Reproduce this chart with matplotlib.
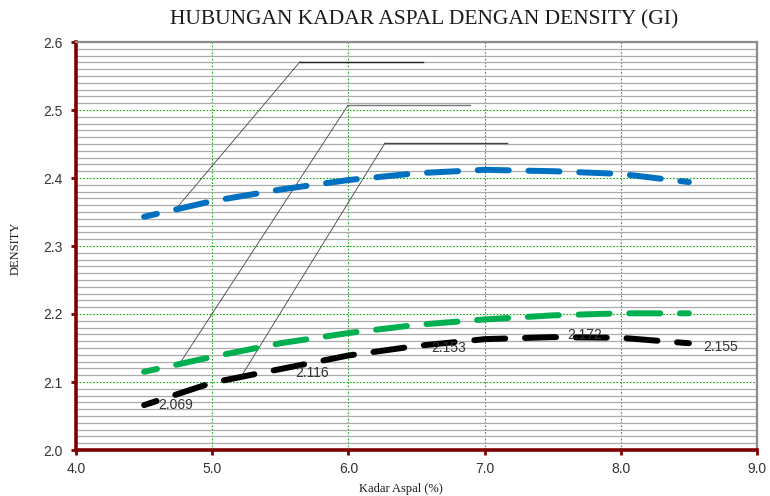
import matplotlib
matplotlib.use("Agg")
import matplotlib.pyplot as plt
import numpy as np
from matplotlib.ticker import MultipleLocator

kadar = [4.5, 5.0, 5.5, 6.0, 6.5, 7.0, 7.5, 8.0, 8.5]
density_blue = [2.343, 2.366, 2.383, 2.397, 2.407, 2.412, 2.410, 2.406, 2.394]
density_green = [2.115, 2.137, 2.157, 2.172, 2.184, 2.192, 2.198, 2.201, 2.201]
density_black = [2.066, 2.099, 2.119, 2.139, 2.153, 2.163, 2.166, 2.165, 2.157]

# Labelled data points (black series)
label_x = [4.5, 5.5, 6.5, 7.5, 8.5]
label_y = [2.069, 2.116, 2.153, 2.172, 2.155]
label_txt = ["2.069", "2.116", "2.153", "2.172", "2.155"]

# Leader lines (start on curve, elbow, end of horizontal)
leaders = [
    ([4.727, 5.645, 6.548], [2.353, 2.571, 2.571]),
    ([4.764, 5.997, 6.893], [2.128, 2.507, 2.507]),
    ([5.219, 6.269, 7.164], [2.110, 2.4515, 2.4515]),
]

fig = plt.figure(figsize=(7.70, 4.96), dpi=100)
ax = fig.add_axes([76 / 770, 1 - 450 / 496, (757 - 76) / 770, (450 - 42) / 496])

ax.set_xlim(4.0, 9.0)
ax.set_ylim(2.0, 2.6)

# grid
ax.yaxis.set_major_locator(MultipleLocator(0.1))
ax.yaxis.set_minor_locator(MultipleLocator(0.01))
ax.xaxis.set_major_locator(MultipleLocator(1.0))
ax.grid(which="minor", axis="y", color="#ababab", linewidth=0.9, linestyle="-")
ax.grid(which="major", axis="both", color="#19a819", linewidth=0.8, linestyle=(0, (1.5, 1.5)))
ax.set_axisbelow(True)

dash = (3.0, (5.2, 3.3))
for vals, col in [(density_blue, "#0070C0"), (density_green, "#00B050"), (density_black, "#000000")]:
    ax.plot(kadar, vals, color=col, linewidth=4.3, linestyle=dash,
            dash_capstyle="round", solid_capstyle="round", zorder=3)

leader_colors = ["#222222", "#777777", "#444444"]
for (lx, ly), c in zip(leaders, leader_colors):
    ax.plot(lx[:2], ly[:2], color="#444444", linewidth=0.6, zorder=2)
    ax.plot(lx[1:], ly[1:], color=c, linewidth=1.0, zorder=2)

for x, y, t in zip(label_x, label_y, label_txt):
    ax.annotate(t, xy=(x, y), xytext=(10.5, -1.5), textcoords="offset points",
                ha="left", va="center", fontsize=10, color="#333333",
                family="Liberation Sans", zorder=4)

# spines
for s in ["left", "bottom"]:
    ax.spines[s].set_color("#800000")
    ax.spines[s].set_linewidth(2.6)
for s in ["top", "right"]:
    ax.spines[s].set_color("#8c8c8c")
    ax.spines[s].set_linewidth(1.6)

ax.tick_params(axis="both", which="major", direction="out", length=3.5, width=2,
               color="#800000", labelsize=10, labelcolor="#333333")
ax.tick_params(axis="y", which="minor", length=0)
ax.tick_params(axis="y", pad=6)
ax.tick_params(axis="x", pad=5)
ax.set_xticks([4, 5, 6, 7, 8, 9])
ax.set_xticklabels(["4.0", "5.0", "6.0", "7.0", "8.0", "9.0"], family="Liberation Sans")
ax.set_yticks([2.0, 2.1, 2.2, 2.3, 2.4, 2.5, 2.6])
ax.set_yticklabels(["2.0", "2.1", "2.2", "2.3", "2.4", "2.5", "2.6"], family="Liberation Sans")

fig.text(424 / 770, 1 - 20 / 496, "HUBUNGAN KADAR ASPAL DENGAN DENSITY (GI)",
         ha="center", va="center", fontsize=15.5, family="Liberation Serif", color="#1a1a1a")
fig.text(401 / 770, 1 - 489 / 496, "Kadar Aspal (%)", ha="center", va="center",
         fontsize=9, family="Liberation Serif", color="#1a1a1a")
fig.text(16 / 770, 1 - 248 / 496, "DENSITY", ha="center", va="center", rotation=90,
         fontsize=9, family="Liberation Serif", color="#1a1a1a")

fig.savefig("out.png", dpi=100)
